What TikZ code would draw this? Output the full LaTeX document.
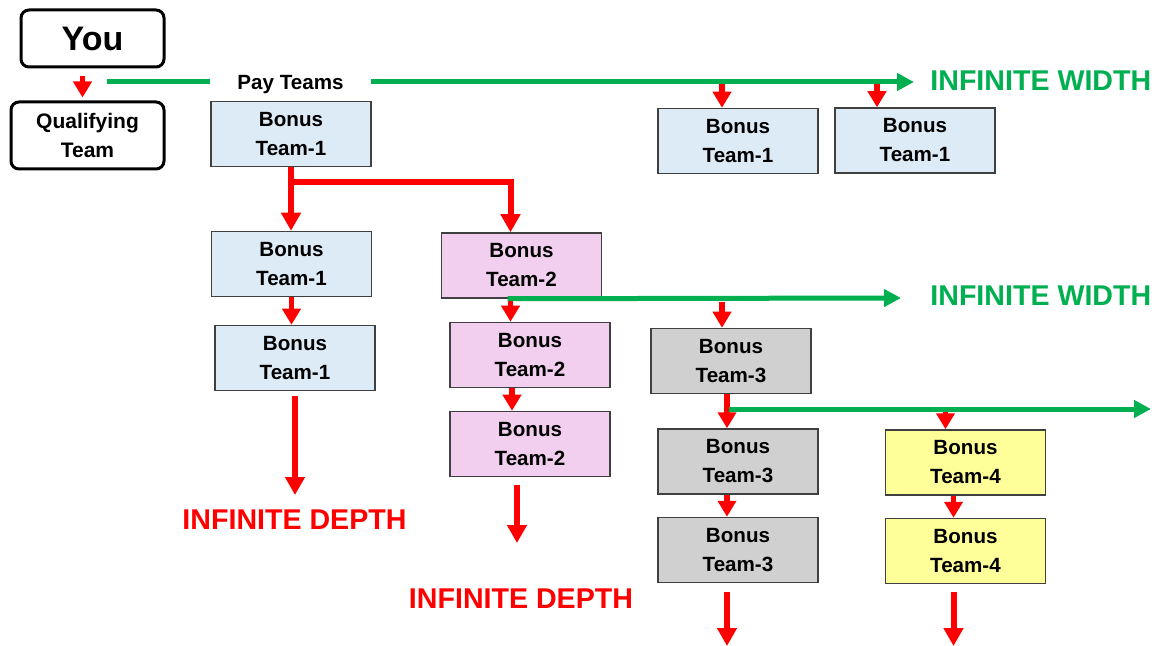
\documentclass[tikz,border=0pt]{standalone}
\usepackage{fontspec}
\setmainfont{Liberation Sans}
\usetikzlibrary{arrows.meta, calc}
\definecolor{gline}{HTML}{00B050}
\definecolor{tblue}{HTML}{DDEBF7}
\definecolor{tpink}{HTML}{F2CFEE}
\definecolor{tgray}{HTML}{D0D0D0}
\definecolor{tyellow}{HTML}{FFFF99}
\definecolor{tframe}{HTML}{404040}
\begin{document}
\begin{tikzpicture}[x=0.5pt, y=-0.5pt,
	bonusbox/.style={draw=tframe, line width=0.75pt, minimum width=80pt, minimum height=32.5pt,
		inner sep=0pt, align=center, font=\fontsize{10.3}{14.5}\selectfont\bfseries},
	roundbox/.style={draw=black, line width=1.5pt, rounded corners=4pt, inner sep=0pt, align=center},
	widelabel/.style={text=gline, inner sep=0pt, font=\fontsize{14.3}{16}\selectfont\bfseries},
	deeplabel/.style={widelabel, text=red},
	redarr/.style={draw=red, line width=3pt, -{Triangle[length=9pt,width=9.5pt]}},
	redtip/.style={draw=red, line width=2.8pt, -{Triangle[length=8pt,width=9pt]}},
	greenline/.style={draw=gline, line width=2.5pt},
	greenarr/.style={greenline, -{Triangle[length=8.5pt,width=8.5pt]}}]
	\useasboundingbox (0,0) rectangle (1161,646);
	% start
	\node[roundbox, minimum width=71.5pt, minimum height=28.5pt,
		font=\fontsize{17}{20}\selectfont\bfseries] (you) at (92.5,38.5) {You};
	\node[roundbox, minimum width=76.5pt, minimum height=33.5pt,
		font=\fontsize{10.5}{14.5}\selectfont\bfseries] (qual) at (87.5,135.5) {Qualifying\\Team};
	\node[inner sep=0pt, minimum width=80pt, font=\fontsize{10.3}{12}\selectfont\bfseries]
		(pay) at (290.5,85) {Pay Teams};
	% team boxes
	\node[bonusbox, fill=tblue] (top1) at (291,134) {Bonus\\Team-1};
	\node[bonusbox, fill=tblue] (tr1) at (738,141) {Bonus\\Team-1};
	\node[bonusbox, fill=tblue] (tr2) at (915,140.5) {Bonus\\Team-1};
	\node[bonusbox, fill=tblue] (b1) at (291.5,264) {Bonus\\Team-1};
	\node[bonusbox, fill=tblue] (b2) at (295,358) {Bonus\\Team-1};
	\node[bonusbox, fill=tpink] (p1) at (521.5,265.5) {Bonus\\Team-2};
	\node[bonusbox, fill=tpink] (p2) at (530,355) {Bonus\\Team-2};
	\node[bonusbox, fill=tpink] (p3) at (530,444) {Bonus\\Team-2};
	\node[bonusbox, fill=tgray] (g1) at (731,361) {Bonus\\Team-3};
	\node[bonusbox, fill=tgray] (g2) at (738,461.5) {Bonus\\Team-3};
	\node[bonusbox, fill=tgray] (g3) at (738,550) {Bonus\\Team-3};
	\node[bonusbox, fill=tyellow] (y1) at (965.5,462.5) {Bonus\\Team-4};
	\node[bonusbox, fill=tyellow] (y2) at (965.5,551) {Bonus\\Team-4};
	% labels
	\node[widelabel, anchor=west] (wide1) at (930,81) {INFINITE WIDTH};
	\node[widelabel, anchor=west] (wide2) at (930,296) {INFINITE WIDTH};
	\node[deeplabel] (deep1) at (294.5,520) {INFINITE DEPTH};
	\node[deeplabel] (deep2) at (521,599) {INFINITE DEPTH};
	% free ends
	\coordinate (gs1) at (107,82);
	\coordinate (ge1) at (914,82);
	\coordinate (ge2) at (901,298);
	\coordinate (gs3) at (729,409);
	\coordinate (ge3) at (1151,409);
	\coordinate (end1) at (295,495);
	\coordinate (end2) at (517,543);
	\coordinate (end3) at (727,646);
	\coordinate (end4) at (953.5,646);
	% red arrows
	\draw[redtip] ([xshift=-5pt,yshift=-4pt]you.south) -- ([xshift=-2.5pt,yshift=1.5pt]qual.north);
	\draw[redtip] ([xshift=-8pt,yshift=12pt]tr1.north) -- ([xshift=-8pt]tr1.north);
	\draw[redtip] ([xshift=-19pt,yshift=12pt]tr2.north) -- ([xshift=-19pt]tr2.north);
	\draw[redarr] (top1.south) -- (top1.south |- b1.north);
	\draw[redarr] ($(top1.south)+(0,15)$) -| ([xshift=-5.5pt]p1.north);
	\draw[redtip] (b1.south) -- (b1.south |- b2.north);
	\draw[redarr] ([yshift=-2.5pt]b2.south) -- (end1);
	\draw[redtip] ([xshift=-5.5pt]p1.south) -- ([xshift=-5.5pt]p1.south |- p2.north);
	\draw[redtip] ([xshift=-9pt]p2.south) -- ([xshift=-9pt]p2.south |- p3.north);
	\draw[redarr] ([xshift=-6.5pt,yshift=-4pt]p3.south) -- (end2);
	\draw[redtip] ([xshift=-4.5pt,yshift=13pt]g1.north) -- ([xshift=-4.5pt]g1.north);
	\draw[redtip] ([xshift=-2pt]g1.south) -- ([xshift=-2pt]g1.south |- g2.north);
	\draw[redtip] ([xshift=-10pt,yshift=10pt]y1.north) -- ([xshift=-10pt]y1.north);
	\draw[redtip] ([xshift=-5.5pt]g2.south) -- ([xshift=-5.5pt]g2.south |- g3.north);
	\draw[redtip] ([xshift=-6pt]y1.south) -- ([xshift=-6pt]y1.south |- y2.north);
	\draw[redarr] ([xshift=-5.5pt,yshift=-4.5pt]g3.south) -- (end3);
	\draw[redarr] ([xshift=-6pt,yshift=-4pt]y2.south) -- (end4);
	% green lines
	\draw[greenline] (gs1) -- (gs1 -| pay.west);
	\draw[greenarr] (pay.east |- ge1) -- (ge1);
	\draw[greenarr] ([xshift=-7pt]p1.south) -- (ge2);
	\draw[greenarr] (gs3) -- (ge3);
\end{tikzpicture}
\end{document}
